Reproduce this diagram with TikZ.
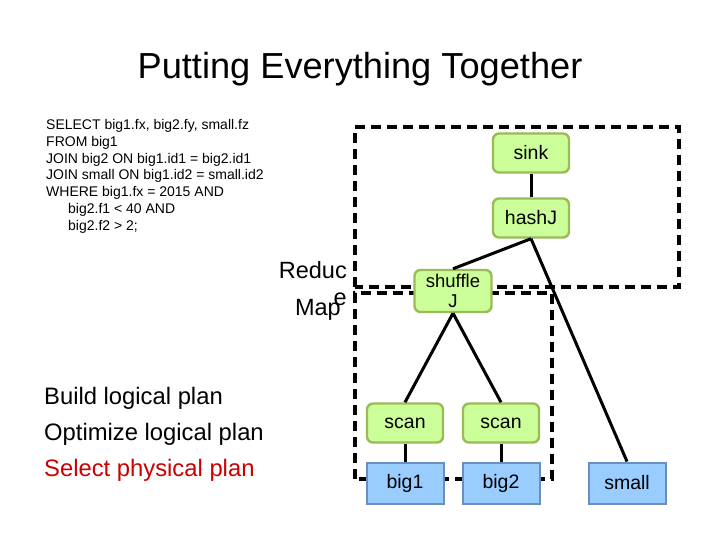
\documentclass[tikz,border=0pt]{standalone}
\usepackage{fontspec}
\setmainfont{Liberation Sans}
\definecolor{opfill}{RGB}{204,255,153}
\definecolor{opdraw}{RGB}{155,187,89}
\definecolor{tbfill}{RGB}{153,204,255}
\definecolor{tbdraw}{RGB}{108,142,191}
\definecolor{selred}{RGB}{204,0,0}
\begin{document}
\begin{tikzpicture}[x=1pt,y=-1pt,
  op/.style={draw=opdraw, fill=opfill, line width=2.4pt, rounded corners=6pt, minimum width=76pt, minimum height=39pt, inner sep=1pt, font=\fontsize{19.5}{19.5}\selectfont, align=center},
  tbl/.style={draw=tbdraw, fill=tbfill, line width=2pt, minimum width=77pt, minimum height=41pt, inner sep=1pt, font=\fontsize{19.5}{19.5}\selectfont},
  edge/.style={line width=3pt},
  bound/.style={line width=3.2pt, dash pattern=on 10pt off 6pt},
  sql/.style={anchor=west, inner sep=0pt, font=\fontsize{14}{14}\selectfont},
  planstep/.style={anchor=base west, inner sep=0pt, font=\fontsize{23.8}{23.8}\selectfont},
  lab/.style={inner sep=0pt, font=\fontsize{23.5}{23.5}\selectfont}]
\useasboundingbox (0,0) rectangle (720,540);
\fill[white] (0,0) rectangle (720,540);
\node[anchor=base, inner sep=0pt, font=\fontsize{36.2}{36.2}\selectfont] (title) at (360,79) {Putting Everything Together};
% SQL
\node[sql] (q1) at (46,126) {SELECT big1.fx, big2.fy, small.fz};
\node[sql] (q2) at (46,143) {FROM big1};
\node[sql] (q3) at (46,159.5) {JOIN big2 ON big1.id1 = big2.id1};
\node[sql] (q4) at (46,176) {JOIN small ON big1.id2 = small.id2};
\node[sql] (q5) at (46,193) {WHERE big1.fx = 2015 AND};
\node[sql] (q6) at (68,210) {big2.f1 < 40 AND};
\node[sql] (q7) at (68,227) {big2.f2 > 2;};
% steps
\node[planstep] (s1) at (44,404) {Build logical plan};
\node[planstep] (s2) at (44,440) {Optimize logical plan};
\node[planstep, text=selred] (s3) at (44,476) {Select physical plan};
% boundaries
\draw[bound] (355,287) -- (355,127) -- (679,127) -- (679,287) -- cycle;
\draw[bound] (355,479) -- (355,293) -- (552,293) -- (552,479) -- cycle;
\node[lab, anchor=base east] (lr) at (347,278) {Reduc};
\node[lab, anchor=base east] (lm) at (341,315) {Map};
\node[lab, anchor=base east] (le) at (347,305) {e};
% nodes
\node[op] (sink) at (531,153) {sink};
\node[op] (hash) at (531,218) {hashJ};
\node[op, minimum width=77pt, minimum height=42pt, font=\fontsize{18.5}{20}\selectfont] (shuf) at (453,291) {shuffle\\J};
\node[op] (scan1) at (405,423) {scan};
\node[op] (scan2) at (501,423) {scan};
\node[tbl] (big1) at (405,483) {big1};
\node[tbl] (big2) at (501,483) {big2};
\node[tbl] (small) at (627,483) {small};
% edges
\draw[edge] (sink) -- (hash);
\draw[edge] (hash.south) -- (shuf.north);
\draw[edge] (hash.south) -- (small.north);
\draw[edge] (shuf.south) -- (scan1.north);
\draw[edge] (shuf.south) -- (scan2.north);
\draw[edge] (scan1) -- (big1);
\draw[edge] (scan2) -- (big2);
\end{tikzpicture}
\end{document}
